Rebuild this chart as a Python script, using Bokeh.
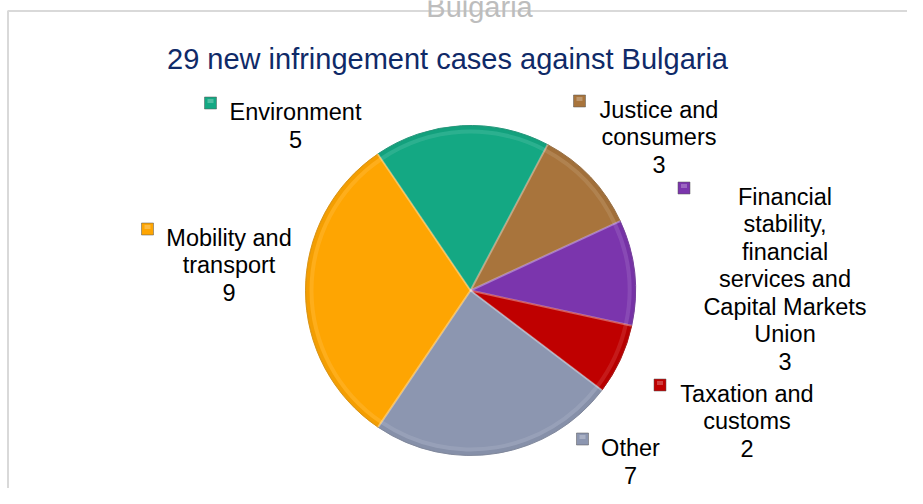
import numpy as np
from bokeh.plotting import figure
from bokeh.models import Range1d
from bokeh.core.properties import value
from bokeh.embed import file_html
from bokeh.resources import INLINE

# ---- data ----
title_text = "29 new infringement cases against Bulgaria"
top_text = "Bulgaria"
categories = ["Environment", "Justice and\nconsumers",
              "Financial\nstability,\nfinancial\nservices and\nCapital Markets\nUnion",
              "Taxation and\ncustoms", "Other", "Mobility and\ntransport"]
values = [5, 3, 3, 2, 7, 9]
colors = ["#14a883", "#a8743c", "#7b35ad", "#bf0000", "#8c96b0", "#fea502"]

# ---- layout (picture pixel positions) ----
W, H = 907, 488
label_cx = [295, 658.5, 784.5, 746.5, 630, 228.5]
label_y0 = [111, 109, 196, 393, 447, 237]
marker_x = [210, 579, 683.5, 659.5, 582, 147]
line_gap = 27.5
font_px = "23.5px"

def X(sx):
    return sx

def Y(sy):
    return H - sy

p = figure(width=W, height=H, output_backend="svg", toolbar_location=None,
           x_range=Range1d(0, W), y_range=Range1d(0, H), min_border=0)
p.axis.visible = False
p.grid.visible = False
p.outline_line_color = None
p.background_fill_color = "white"
p.border_fill_color = "white"

# frame
p.line([X(7.5), X(7.5), X(1000)], [Y(600), Y(10.5), Y(10.5)],
       line_color="#d9d9d9", line_width=2)

# pie
cx, cy, R = X(470), Y(290), 165
vals = np.array(values, dtype=float)
frac = vals / vals.sum() * 2 * np.pi
cum = np.concatenate([[0], np.cumsum(frac)])
start0 = np.deg2rad(90 + 34.2)
starts = start0 - cum[:-1]
ends = start0 - cum[1:]
p.wedge(x=cx, y=cy, radius=R, start_angle=starts, end_angle=ends,
        direction="clock", fill_color=colors, line_color=colors, line_width=1)
# subtle bevel
p.annular_wedge(x=cx, y=cy, inner_radius=R - 4, outer_radius=R,
                start_angle=starts, end_angle=ends, direction="clock",
                fill_color="black", fill_alpha=0.04, line_color=None)
p.annular_wedge(x=cx, y=cy, inner_radius=R - 8, outer_radius=R - 4,
                start_angle=starts, end_angle=ends, direction="clock",
                fill_color="white", fill_alpha=0.10, line_color=None)
for a in starts:
    p.line([cx, cx + R * np.cos(a)], [cy, cy + R * np.sin(a)],
           line_color="white", line_alpha=0.35, line_width=2)
p.circle(x=cx, y=cy, radius=R, fill_color=None, line_color="#6b6b6b",
         line_alpha=0.25, line_width=1)

# title
p.text(x=[X(447)], y=[Y(58)], text=[title_text], text_font=value("Liberation Sans"),
       text_font_size="29px", text_color="#0f2a68", text_align="center",
       text_baseline="alphabetic")
p.text(x=[X(479)], y=[Y(6)], text=[top_text], text_font=value("Liberation Sans"),
       text_font_size="29px", text_color="#bdbdbd", text_align="center",
       text_baseline="alphabetic")

# labels
for i, cat in enumerate(categories):
    lines = cat.split("\n") + [str(values[i])]
    xs = [X(label_cx[i])] * len(lines)
    ys = [Y(label_y0[i] + k * line_gap) for k in range(len(lines))]
    p.text(x=xs, y=ys, text=lines, text_font=value("Liberation Sans"),
           text_font_size=font_px, text_color="black", text_align="center",
           text_baseline="alphabetic")
    mx, my = X(marker_x[i]), Y(label_y0[i] - 8.5)
    p.rect(x=[mx], y=[my], width=12, height=12, fill_color=colors[i],
           line_color="#555555", line_alpha=0.5, line_width=1)
    p.rect(x=[mx], y=[my + 2], width=6, height=4, fill_color="white",
           fill_alpha=0.25, line_color=None)

open("out.html", "w").write(file_html(p, INLINE))
